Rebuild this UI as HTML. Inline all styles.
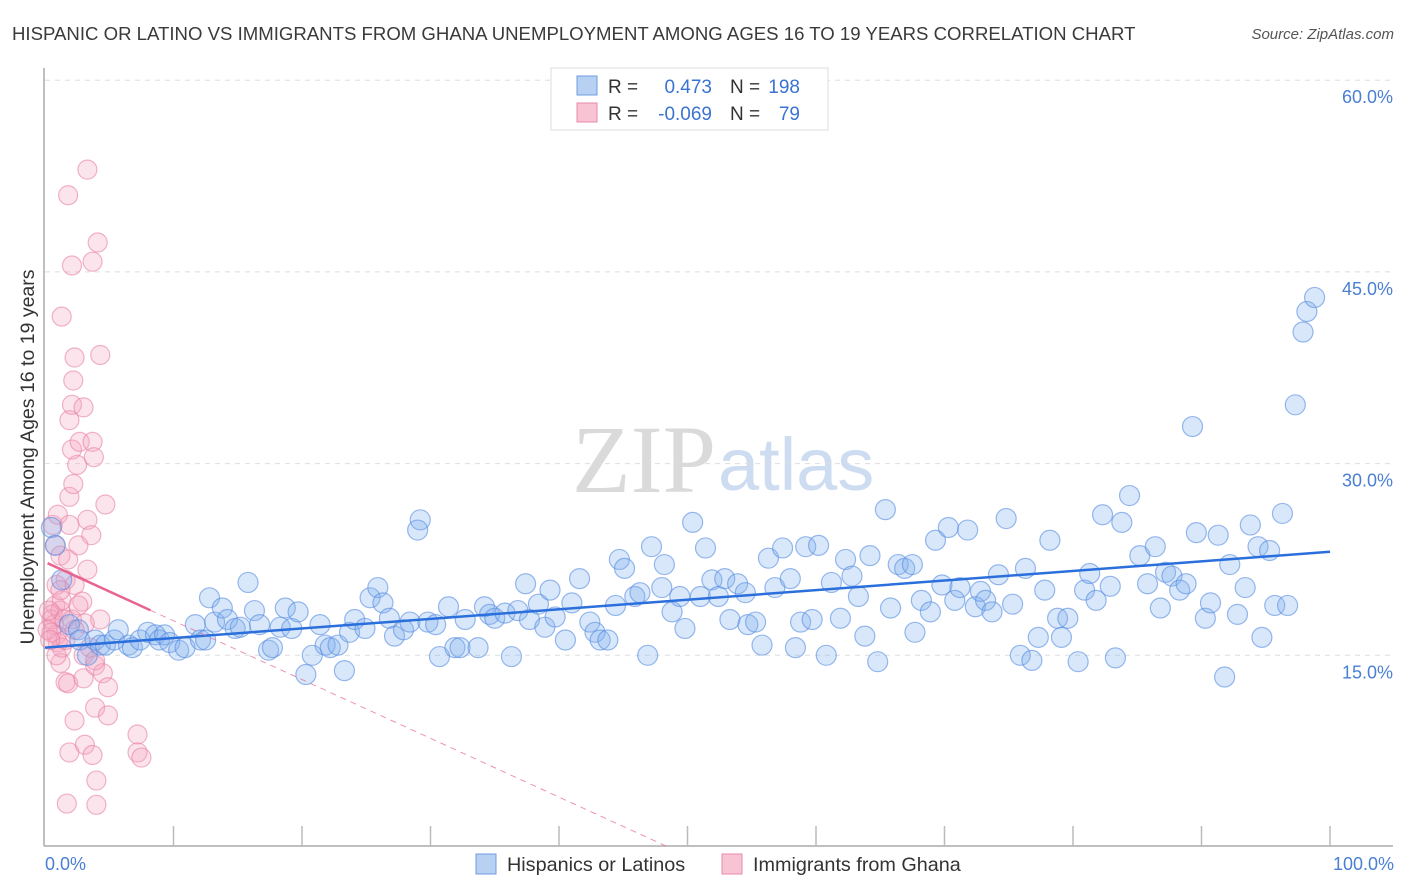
<!DOCTYPE html>
<html><head><meta charset="utf-8"><style>
body{margin:0;background:#fff;font-family:"Liberation Sans",sans-serif}
svg{display:block}
</style></head><body>
<svg id="chart" width="1406" height="892">
<text x="12" y="40" font-size="18.6" fill="#3a3a3a">HISPANIC OR LATINO VS IMMIGRANTS FROM GHANA UNEMPLOYMENT AMONG AGES 16 TO 19 YEARS CORRELATION CHART</text>
<text x="1394" y="39" font-size="15" fill="#555" font-style="italic" text-anchor="end">Source: ZipAtlas.com</text>
<text x="716" y="492" font-size="96" fill="#dadada" font-family="Liberation Serif,serif" text-anchor="end">ZIP</text>
<text x="718" y="490" font-size="74" fill="#cddcf0">atlas</text>
<g id="grid"></g><g id="axes"></g><g id="pts"></g><g id="trend"></g>
<text transform="translate(34,457) rotate(-90)" font-size="19.5" fill="#333" text-anchor="middle">Unemployment Among Ages 16 to 19 years</text>
<text x="45" y="870" font-size="18" fill="#4a7fd4">0.0%</text>
<text x="1394" y="870" font-size="18" fill="#4a7fd4" text-anchor="end">100.0%</text>
<g>
<rect x="551" y="68" width="277" height="62" fill="#fff" stroke="#ddd"/>
<rect x="577" y="76" width="20" height="19" fill="#b8d0f2" stroke="#6d9de0"/>
<rect x="577" y="103" width="20" height="19" fill="#f8c4d4" stroke="#e88aa8"/>
<text x="608" y="93" font-size="19" fill="#333">R =</text><text x="712" y="93" font-size="19" fill="#3a74d0" text-anchor="end">0.473</text>
<text x="730" y="93" font-size="19" fill="#333">N =</text><text x="800" y="93" font-size="19" fill="#3a74d0" text-anchor="end">198</text>
<text x="608" y="120" font-size="19" fill="#333">R =</text><text x="712" y="120" font-size="19" fill="#3a74d0" text-anchor="end">-0.069</text>
<text x="730" y="120" font-size="19" fill="#333">N =</text><text x="800" y="120" font-size="19" fill="#3a74d0" text-anchor="end">79</text>
</g>
<g>
<rect x="476" y="854" width="20" height="20" fill="#b8d0f2" stroke="#6d9de0"/>
<text x="507" y="871" font-size="19.8" fill="#333">Hispanics or Latinos</text>
<rect x="722" y="854" width="20" height="20" fill="#f8c4d4" stroke="#e88aa8"/>
<text x="753" y="871" font-size="19.8" fill="#333">Immigrants from Ghana</text>
</g>
</svg>
<script>
const yTicks=[15,30,45,60];
const yTickLabels=["15.0%","30.0%","45.0%","60.0%"];
const xTicks=[10,20,30,40,50,60,70,80,90,100];
const hispX=[0.5,0.8,1.3,1.9,2.6,2.7,3.3,3.9,4.3,4.7,5.4,5.7,6.5,6.8,7.4,8.0,8.6,8.9,9.3,9.7,10.4,10.9,11.7,12.1,12.5,12.8,13.2,13.8,14.2,14.8,15.2,15.8,16.3,16.7,17.4,17.7,18.3,18.7,19.2,19.7,20.3,20.8,21.4,21.8,22.2,22.8,23.3,23.7,24.1,24.9,25.3,25.9,26.3,26.8,27.2,27.9,28.4,29.2,29.0,29.8,30.4,30.7,31.4,31.9,32.3,32.7,33.7,34.2,34.6,35.0,35.8,36.3,36.8,37.4,37.7,38.4,38.9,39.3,39.7,40.5,41.0,41.6,42.4,42.8,43.2,43.8,44.4,44.7,45.1,45.9,46.3,46.9,47.2,48.0,48.2,48.8,49.4,49.8,50.4,51.0,51.4,51.9,52.4,52.9,53.3,53.9,54.5,54.7,55.3,55.8,56.3,56.8,57.4,58.0,58.4,58.8,59.2,59.7,60.2,60.8,61.2,61.9,62.3,62.8,63.3,63.8,64.2,64.8,65.4,65.8,66.4,66.9,67.5,67.7,68.2,68.9,69.3,69.8,70.3,70.8,71.2,71.8,72.4,72.8,73.2,73.7,74.2,74.8,75.3,75.9,76.3,76.8,77.3,77.8,78.2,78.8,79.1,79.6,80.4,80.9,81.3,81.8,82.3,82.9,83.3,83.8,84.4,85.2,85.8,86.4,86.8,87.2,87.7,88.3,88.8,89.3,89.6,90.3,90.7,91.3,91.8,92.2,92.8,93.4,93.8,94.4,94.7,95.3,95.7,96.3,96.7,97.3,97.9,98.2,98.8];
const hispY=[25.0,23.6,20.9,17.4,17.0,16.2,15.0,16.2,15.8,15.8,16.2,17.0,15.8,15.6,16.2,16.8,16.6,16.2,16.6,16.0,15.4,15.6,17.4,16.2,16.2,19.5,17.6,18.7,17.8,17.1,17.2,20.7,18.5,17.4,15.4,15.6,17.2,18.7,17.1,18.4,13.5,15.0,17.4,15.8,15.6,15.8,13.8,16.8,17.8,17.1,19.5,20.3,19.1,17.9,16.5,17.0,17.6,25.6,24.8,17.6,17.4,14.9,18.8,15.6,15.6,17.8,15.6,18.8,18.2,17.9,18.3,14.9,18.5,20.6,17.8,19.0,17.2,20.1,18.0,16.2,19.1,21.0,17.6,16.8,16.2,16.2,18.9,22.5,21.8,19.6,19.9,15.0,23.5,20.3,22.1,18.4,19.6,17.1,25.4,19.6,23.4,20.9,19.6,21.0,17.8,20.6,19.9,17.4,17.6,15.8,22.6,20.3,23.4,21.0,15.6,17.6,23.5,17.8,23.6,15.0,20.7,17.9,22.5,21.2,19.6,16.5,22.8,14.5,26.4,18.7,22.1,21.8,22.1,16.8,19.3,18.4,24.0,20.5,25.0,19.3,20.3,24.8,18.8,20.0,19.3,18.4,21.3,25.7,19.0,15.0,21.8,14.6,16.4,20.1,24.0,17.9,16.4,17.9,14.5,20.1,21.4,19.3,26.0,20.4,14.8,25.4,27.5,22.8,20.6,23.5,18.7,21.5,21.2,20.1,20.6,32.9,24.6,17.9,19.1,24.4,13.3,22.1,18.2,20.3,25.2,23.5,16.4,23.2,18.9,26.1,18.9,34.6,40.3,41.9,43.0];
const ghX=[0.6,0.8,1.0,1.2,0.9,0.8,0.6,0.7,0.9,1.0,0.5,0.5,1.2,1.3,1.6,1.8,1.9,2.1,2.3,2.6,2.9,3.3,3.3,3.6,1.9,2.2,2.5,2.1,2.7,3.7,3.8,1.9,2.1,3.0,2.2,2.3,4.3,1.3,2.1,3.7,4.1,1.8,3.3,4.7,1.2,1.6,1.8,3.0,3.9,4.5,4.9,2.3,3.9,4.9,1.9,3.1,3.7,7.2,7.2,7.5,4.0,1.7,4.0,1.3,1.6,3.0,3.5,3.1,3.9,0.2,0.4,0.3,0.9,2.3,2.6,1.5,1.2,4.3];
const ghY=[25.2,23.6,26.0,22.8,20.5,18.9,18.2,17.4,16.6,16.0,17.8,16.8,18.5,19.3,20.9,22.5,25.2,17.8,20.5,23.6,19.2,21.7,25.6,24.4,27.4,28.4,29.9,31.1,31.7,31.7,30.5,33.4,34.6,34.4,36.5,38.3,38.5,41.5,45.5,45.8,47.3,51.0,53.0,26.8,14.4,12.9,12.8,13.2,14.2,13.6,12.5,9.9,10.9,10.3,7.4,8.0,7.2,8.8,7.4,7.0,5.2,3.4,3.3,15.6,16.2,15.0,15.6,17.5,14.6,17.0,16.2,18.5,15.0,17.0,18.9,17.8,20.1,17.8];
const hispTrend=[15.6,23.1];
const ghTrend=[22.3,-0.05];

const sx=v=>45+v*12.85, sy=v=>847-v*12.78;
const NS="http://www.w3.org/2000/svg";
function mk(t,a,p){const e=document.createElementNS(NS,t);for(const k in a)e.setAttribute(k,a[k]);p.appendChild(e);return e;}
const grid=document.getElementById('grid'),axes=document.getElementById('axes'),pts=document.getElementById('pts'),tr=document.getElementById('trend');
yTicks.forEach((v,i)=>{
  const l=mk('line',{x1:45,x2:1393,y1:sy(v),y2:sy(v),stroke:'#ddd','stroke-dasharray':'5,5'},grid);
  
  
  const t=mk('text',{x:1393,y:sy(v)+23,'font-size':18,fill:'#4a7fd4','text-anchor':'end'},grid);
  t.textContent=yTickLabels[i];
  
  
});
let a=mk('line',{x1:44,x2:44,y1:68,y2:846,stroke:'#aaa','stroke-width':1.5},axes);


a=mk('line',{x1:44,x2:1393,y1:846,y2:846,stroke:'#aaa','stroke-width':1.5},axes);


xTicks.forEach(v=>{
  const l=mk('line',{x1:sx(v),x2:sx(v),y1:826,y2:846,stroke:'#bbb','stroke-width':1.5},axes);
  
  
});
ghX.forEach((x,i)=>{
  const c=mk('circle',{cx:sx(x),cy:sy(ghY[i]),r:9.5,fill:'rgba(246,165,192,0.3)',stroke:'rgba(232,130,165,0.6)','stroke-width':1.2},pts);
  
  
});
hispX.forEach((x,i)=>{
  const c=mk('circle',{cx:sx(x),cy:sy(hispY[i]),r:10,fill:'rgba(130,175,240,0.3)',stroke:'rgba(85,140,225,0.6)','stroke-width':1.2},pts);
  
  
});
let l=mk('line',{x1:sx(0),y1:sy(hispTrend[0]),x2:sx(100),y2:sy(hispTrend[1]),stroke:'#2a6fdb','stroke-width':2.5},tr);


const gslope=(ghTrend[1]-ghTrend[0])/48.6;
l=mk('line',{x1:sx(0.2),y1:sy(ghTrend[0]+gslope*0.2),x2:sx(8.2),y2:sy(ghTrend[0]+gslope*8.2),stroke:'#e8658f','stroke-width':2.5},tr);


l=mk('line',{x1:sx(8.2),y1:sy(ghTrend[0]+gslope*8.2),x2:sx(48.6),y2:sy(ghTrend[1]),stroke:'#e8658f','stroke-width':1,'stroke-dasharray':'6,5',opacity:0.7},tr);


</script>
</body></html>
